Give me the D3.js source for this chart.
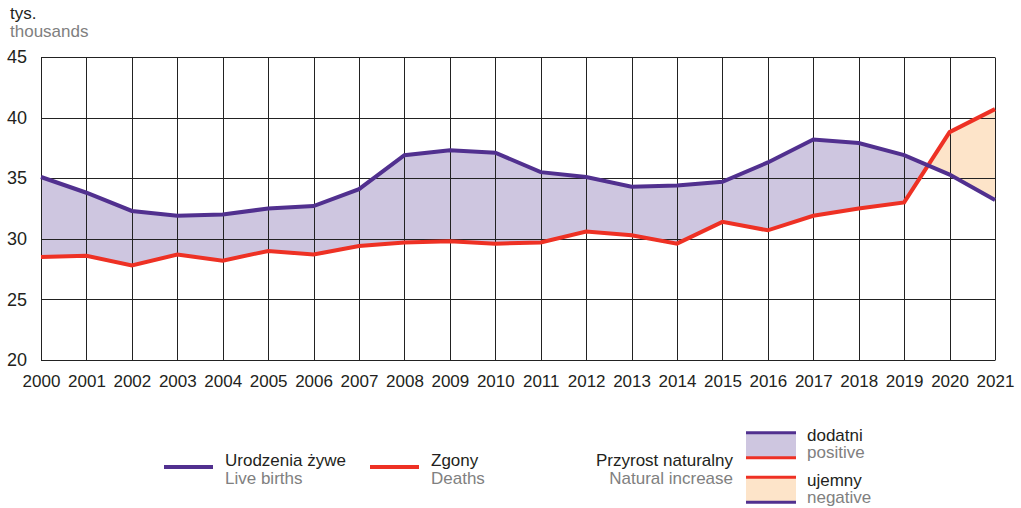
<!DOCTYPE html>
<html><head><meta charset="utf-8">
<script src="https://cdn.jsdelivr.net/npm/d3@7"></script>
<style>body{margin:0;background:#fff}svg{display:block;font-family:"Liberation Sans",Arial,sans-serif}</style>
</head><body>
<svg id="c" width="1021" height="508"></svg>
<script>
const years = [2000,2001,2002,2003,2004,2005,2006,2007,2008,2009,2010,2011,2012,2013,2014,2015,2016,2017,2018,2019,2020,2021];
const births = [35.1,33.8,32.3,31.9,32.0,32.5,32.7,34.1,36.9,37.3,37.1,35.5,35.1,34.3,34.4,34.7,36.3,38.2,37.9,36.9,35.3,33.2];
const deaths = [28.5,28.6,27.8,28.7,28.2,29.0,28.7,29.4,29.7,29.8,29.6,29.7,30.6,30.3,29.6,31.4,30.7,31.9,32.5,33.0,38.8,40.7];
const yTicks = [20,25,30,35,40,45];

(function(){
const COL_B = "#51308f", COL_D = "#ee3124", FILL_POS = "#cec6e0", FILL_NEG = "#fde4c9";
const TXT = "#231f20", SUB = "#808080", FS = 17;
const svg = d3.select("#c");
const x = d3.scaleLinear().domain([2000,2021]).range([41,995]);
const y = d3.scaleLinear().domain([20,45]).range([360,57]);
const data = years.map((yr,i)=>({yr,b:births[i],d:deaths[i]}));
const plotTop = 57, plotBot = 360;

const defs = svg.append("defs");
defs.append("clipPath").attr("id","aboveD").append("path")
  .attr("d", d3.area().x(p=>x(p.yr)).y0(0).y1(p=>y(p.d))(data));
defs.append("clipPath").attr("id","aboveB").append("path")
  .attr("d", d3.area().x(p=>x(p.yr)).y0(0).y1(p=>y(p.b))(data));

svg.append("path").attr("clip-path","url(#aboveD)").attr("fill",FILL_POS)
  .attr("d", d3.area().x(p=>x(p.yr)).y0(plotBot).y1(p=>y(p.b))(data));
svg.append("path").attr("clip-path","url(#aboveB)").attr("fill",FILL_NEG)
  .attr("d", d3.area().x(p=>x(p.yr)).y0(plotBot).y1(p=>y(p.d))(data));

const g = svg.append("g");
g.selectAll("line.h").data(yTicks).join("line")
  .attr("x1",x(2000)).attr("x2",x(2021))
  .attr("y1",d=>Math.round(y(d))+0.5).attr("y2",d=>Math.round(y(d))+0.5)
  .attr("stroke","#222").attr("stroke-width",1);
g.selectAll("line.v").data(years).join("line")
  .attr("x1",d=>Math.round(x(d))+0.5).attr("x2",d=>Math.round(x(d))+0.5)
  .attr("y1",Math.round(plotTop)+0.5).attr("y2",Math.round(plotBot)+0.5)
  .attr("stroke","#222").attr("stroke-width",1);

const yAxis = d3.axisLeft(y).tickValues(yTicks).tickSize(0).tickPadding(14);
const ya = svg.append("g").attr("transform",`translate(${x(2000)},0)`).call(yAxis);
ya.select(".domain").remove();
ya.selectAll("text").attr("font-size",18).attr("fill",TXT).attr("font-family","Liberation Sans, Arial, sans-serif");

const xAxis = d3.axisBottom(x).tickValues(years).tickFormat(d3.format("d")).tickSize(0).tickPadding(15);
const xa = svg.append("g").attr("transform",`translate(0,${plotBot})`).call(xAxis);
xa.select(".domain").remove();
xa.selectAll("text").attr("font-size",17).attr("fill",TXT).attr("font-family","Liberation Sans, Arial, sans-serif");

svg.append("path").attr("fill","none").attr("stroke",COL_D).attr("stroke-width",4).attr("stroke-linejoin","miter")
  .attr("d", d3.line().x(p=>x(p.yr)).y(p=>y(p.d))(data));
svg.append("path").attr("fill","none").attr("stroke",COL_B).attr("stroke-width",4).attr("stroke-linejoin","miter")
  .attr("d", d3.line().x(p=>x(p.yr)).y(p=>y(p.b))(data));

svg.append("text").attr("x",10).attr("y",19).attr("font-size",17).attr("fill",TXT).text("tys.");
svg.append("text").attr("x",10).attr("y",36.5).attr("font-size",17).attr("fill",SUB).text("thousands");

const L = svg.append("g").attr("font-size",FS);
function lineItem(x0, col, t1, t2){
  L.append("line").attr("x1",x0).attr("x2",x0+49).attr("y1",467).attr("y2",467).attr("stroke",col).attr("stroke-width",4);
  L.append("text").attr("x",x0+61).attr("y",466).attr("fill",TXT).text(t1);
  L.append("text").attr("x",x0+61).attr("y",483.5).attr("fill",SUB).text(t2);
}
lineItem(164, COL_B, "Urodzenia żywe", "Live births");
lineItem(370, COL_D, "Zgony", "Deaths");
L.append("text").attr("x",733).attr("y",466).attr("text-anchor","end").attr("fill",TXT).text("Przyrost naturalny");
L.append("text").attr("x",733).attr("y",483.5).attr("text-anchor","end").attr("fill",SUB).text("Natural increase");

function boxItem(y0, fill, cTop, cBot, t1, t2){
  L.append("rect").attr("x",746).attr("y",y0).attr("width",50).attr("height",25).attr("fill",fill);
  L.append("line").attr("x1",746).attr("x2",796).attr("y1",y0).attr("y2",y0).attr("stroke",cTop).attr("stroke-width",3);
  L.append("line").attr("x1",746).attr("x2",796).attr("y1",y0+25).attr("y2",y0+25).attr("stroke",cBot).attr("stroke-width",3);
  L.append("text").attr("x",807).attr("y",y0+8.5).attr("fill",TXT).text(t1);
  L.append("text").attr("x",807).attr("y",y0+25.5).attr("fill",SUB).text(t2);
}
boxItem(432.7, FILL_POS, COL_B, COL_D, "dodatni", "positive");
boxItem(477.3, FILL_NEG, COL_D, COL_B, "ujemny", "negative");
})();
</script>
</body></html>
